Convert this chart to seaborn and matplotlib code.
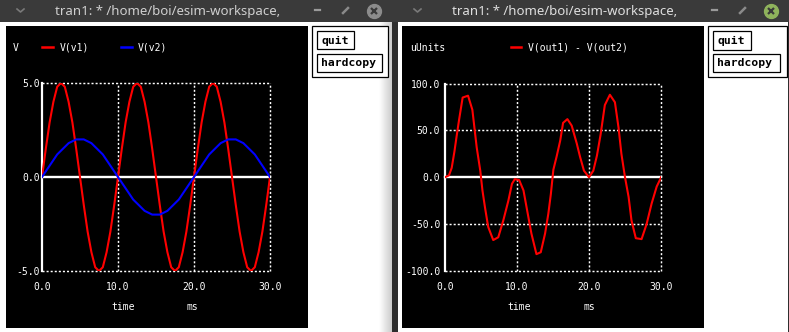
import matplotlib
matplotlib.use("Agg")
import matplotlib.pyplot as plt
import seaborn as sns
import pandas as pd
import numpy as np
from matplotlib.patches import Rectangle
from matplotlib.lines import Line2D

# ---------------- data ----------------
time_ms = [0.0, 0.5, 1.0, 1.5, 2.0, 2.5, 3.0, 3.5, 4.0, 4.5, 5.0, 5.5, 6.0, 6.5, 7.0, 7.5,
           8.0, 8.5, 9.0, 9.5, 10.0, 10.5, 11.0, 11.5, 12.0, 12.5, 13.0, 13.5, 14.0, 14.5,
           15.0, 15.5, 16.0, 16.5, 17.0, 17.5, 18.0, 18.5, 19.0, 19.5, 20.0, 20.5, 21.0,
           21.5, 22.0, 22.5, 23.0, 23.5, 24.0, 24.5, 25.0, 25.5, 26.0, 26.5, 27.0, 27.5,
           28.0, 28.5, 29.0, 29.5, 30.0]

v_v1 = [0.0, 1.5, 2.9, 4.0, 4.8, 5.0, 4.8, 4.0, 2.9, 1.5, 0.0, -1.5, -2.9, -4.0, -4.8, -5.0,
        -4.8, -4.0, -2.9, -1.5,
        0.0, 1.5, 2.9, 4.0, 4.8, 5.0, 4.8, 4.0, 2.9, 1.5, 0.0, -1.5, -2.9, -4.0, -4.8, -5.0,
        -4.8, -4.0, -2.9, -1.5,
        0.0, 1.5, 2.9, 4.0, 4.8, 5.0, 4.8, 4.0, 2.9, 1.5, 0.0, -1.5, -2.9, -4.0, -4.8, -5.0,
        -4.8, -4.0, -2.9, -1.5, 0.0]

v_v2 = [0.0, 0.3, 0.6, 0.9, 1.2, 1.4, 1.6, 1.8, 1.9, 2.0, 2.0, 2.0, 1.9, 1.8, 1.6, 1.4,
        1.2, 0.9, 0.6, 0.3, 0.0,
        -0.3, -0.6, -0.9, -1.2, -1.4, -1.6, -1.8, -1.9, -2.0, -2.0, -2.0, -1.9, -1.8, -1.6,
        -1.4, -1.2, -0.9, -0.6, -0.3, 0.0,
        0.3, 0.6, 0.9, 1.2, 1.4, 1.6, 1.8, 1.9, 2.0, 2.0, 2.0, 1.9, 1.8, 1.6, 1.4, 1.2,
        0.9, 0.6, 0.3, 0.0]

diff_time_ms = [0.0, 0.55, 0.93, 1.3, 1.6, 1.95, 2.45, 3.2, 3.8, 4.4, 4.9, 5.2, 5.55, 6.0,
                6.7, 7.4, 8.1, 8.8, 9.3, 9.7, 10.3, 10.9, 11.4, 12.0, 12.7, 13.3, 13.9,
                14.35, 14.7, 15.05, 15.5, 16.0, 16.4, 17.0, 17.6, 18.3, 18.75, 19.3, 20.0,
                20.6, 21.1, 21.6, 22.2, 22.9, 23.6, 24.1, 24.5, 25.0, 25.5, 25.9, 26.5,
                27.3, 28.0, 28.7, 29.4, 29.9, 30.0]
diff_uunits = [0, 2, 10, 27, 43, 61, 85, 87, 72, 32, 7, -14, -32, -53,
               -67, -64, -46, -25, -7, -2, -3, -14, -35, -60, -82, -80, -60,
               -39, -18, 8, 22, 39, 58, 62, 55, 36, 22, 7, 0,
               7, 23, 45, 77, 88, 80, 53, 25, 0, -21, -46, -65,
               -66, -50, -28, -10, -2, 0]

x_ticks = [0, 10, 20, 30]
x_tick_labels = ["0.0", "10.0", "20.0", "30.0"]
left_y_ticks = [-5, 0, 5]
left_y_tick_labels = ["-5.0", "0.0", "5.0"]
right_y_ticks = [-100, -50, 0, 50, 100]
right_y_tick_labels = ["-100.0", "-50.0", "0.0", "50.0", "100.0"]

left_series = ["V(v1)", "V(v2)"]
left_colors = ["#ff0000", "#0000ff"]
right_series = ["V(out1) - V(out2)"]
right_colors = ["#ff0000"]
window_title = "tran1: * /home/boi/esim-workspace,"

# ---------------- figure ----------------
W, H = 789, 332
MONO = "DejaVu Sans Mono"
fig = plt.figure(figsize=(W / 100, H / 100), dpi=100)
fig.patch.set_facecolor("#2e2e2e")


def fxx(x):
    return x / W


def fyy(y):
    return 1 - y / H


def rect(x0, y0, x1, y1, fc, ec="none", lw=0.0, z=-10):
    fig.add_artist(Rectangle((fxx(x0), fyy(y1)), (x1 - x0) / W, (y1 - y0) / H,
                             transform=fig.transFigure, facecolor=fc, edgecolor=ec,
                             linewidth=lw, zorder=z))


def ftext(x, y, s, **kw):
    kw.setdefault("zorder", 20)
    fig.text(fxx(x), fyy(y), s, **kw)


def fline(xs, ys, **kw):
    kw.setdefault("zorder", 20)
    fig.add_artist(Line2D([fxx(v) for v in xs], [fyy(v) for v in ys],
                          transform=fig.transFigure, **kw))


# title bar
rect(0, 0, W, 22, "#3a3a3a")
# window bodies
rect(0, 22, 391, 332, "white")
rect(6, 26, 308, 328, "black", z=-9)
rect(397.5, 22, 787.5, 332, "white")
rect(402, 26, 704, 328, "black", z=-9)

# shadow gradient on the right edge of the left window
gax = fig.add_axes([fxx(379), fyy(332), 12.5 / W, 310 / H])
grad = np.linspace(1.0, 0.8, 32).reshape(1, -1)
gax.imshow(grad, aspect="auto", cmap="gray", vmin=0, vmax=1, extent=[0, 1, 0, 1])
gax.set_axis_off()
gax.set_zorder(-9.5)

# window titles and title-bar controls
for off, tcol, close_col in [(0, "#cfcfcf", "#8c8c8c"), (397, "#dedede", "#8fb35c")]:
    ftext(168 + off, 11.5, window_title, color=tcol, fontsize=9.5, fontweight="bold",
          family="Noto Sans", ha="center", va="center")
    fline([17 + off, 20.5 + off, 24 + off], [9, 12, 9], color="#7a7a7a", lw=1.2)
    fline([315 + off, 320 + off], [10, 10], color="#9a9a9a", lw=1.6)
    fline([343 + off, 348 + off], [13, 8], color="#8a8a8a", lw=1.8)
    fline([373.5 + off], [10.5], marker="o", markersize=10, color=close_col, lw=0)
    fline([373.5 + off], [10.5], marker="x", markersize=4.2, markeredgewidth=1.6,
          color="#3a3a3a", lw=0)

# control panels (quit / hardcopy)
for box, quit_b, hard_b in [((312, 26, 387.5, 77), (317, 31, 354, 49), (317, 54, 382, 72)),
                            ((708, 26, 787, 77), (713, 31, 751, 50), (713, 54, 780, 72))]:
    rect(*box, "white", ec="black", lw=0.9, z=-8)
    rect(*quit_b, "white", ec="black", lw=0.9, z=-7)
    rect(*hard_b, "white", ec="black", lw=0.9, z=-7)
    ftext(quit_b[0] + 4, (quit_b[1] + quit_b[3]) / 2 + 0.5, "quit", family=MONO,
          fontweight="bold", fontsize=8.2, color="black", ha="left", va="center")
    ftext(hard_b[0] + 4, (hard_b[1] + hard_b[3]) / 2 + 0.5, "hardcopy", family=MONO,
          fontweight="bold", fontsize=8.2, color="black", ha="left", va="center")

DOT = (0, (1.4, 1.4))


def make_axes(x0, y0, x1, y1, ylim, yticks, ylabels, ypad):
    ax = fig.add_axes([fxx(x0), fyy(y1), (x1 - x0) / W, (y1 - y0) / H])
    ax.set_facecolor("none")
    ax.set_zorder(5)
    for s in ax.spines.values():
        s.set_visible(False)
    ax.set_xlim(x_ticks[0], x_ticks[-1])
    ax.set_ylim(*ylim)
    ax.set_xticks(x_ticks)
    ax.set_xticklabels(x_tick_labels, family=MONO, fontsize=7, color="white")
    ax.set_yticks(yticks)
    ax.set_yticklabels(ylabels, family=MONO, fontsize=7, color="white")
    ax.tick_params(axis="x", length=0, pad=8.2)
    ax.tick_params(axis="y", length=0, pad=ypad)
    ax.set_xlabel("")
    ax.set_ylabel("")
    for xv in x_ticks[1:]:
        ax.axvline(xv, color="white", lw=1.05, ls=DOT, zorder=1, clip_on=False)
    for yv in yticks:
        if yv == 0:
            ax.axhline(yv, color="white", lw=1.7, zorder=1.5, clip_on=False)
        else:
            ax.axhline(yv, color="white", lw=1.05, ls=DOT, zorder=1, clip_on=False)
    ax.axvline(x_ticks[0], color="white", lw=1.6, zorder=1.5, clip_on=False)
    return ax


# left plot
axL = make_axes(42, 83, 270, 271, (left_y_ticks[0], left_y_ticks[-1]),
                left_y_ticks, left_y_tick_labels, 1.6)
dfL = pd.DataFrame({
    "t": time_ms * 2,
    "v": v_v1 + v_v2,
    "series": [left_series[0]] * len(time_ms) + [left_series[1]] * len(time_ms),
})
sns.lineplot(data=dfL, x="t", y="v", hue="series", palette=dict(zip(left_series, left_colors)),
             estimator=None, legend=False, linewidth=1.5, ax=axL, zorder=3)
axL.set_xlabel("")
axL.set_ylabel("")

# right plot
axR = make_axes(445, 83.5, 661, 271, (right_y_ticks[0], right_y_ticks[-1]),
                right_y_ticks, right_y_tick_labels, 3.4)
dfR = pd.DataFrame({"t": diff_time_ms, "v": diff_uunits,
                    "series": [right_series[0]] * len(diff_time_ms)})
sns.lineplot(data=dfR, x="t", y="v", hue="series", palette=dict(zip(right_series, right_colors)),
             estimator=None, legend=False, linewidth=1.5, ax=axR, zorder=3)
axR.set_xlabel("")
axR.set_ylabel("")

# headers / legends
tk = dict(family=MONO, fontsize=7, color="white", va="center", zorder=20)
ftext(13, 48, "V", ha="left", **tk)
fline([42, 53], [47, 47], color=left_colors[0], lw=1.8)
ftext(60, 48, left_series[0], ha="left", **tk)
fline([121, 132], [47, 47], color=left_colors[1], lw=1.8)
ftext(138, 48, left_series[1], ha="left", **tk)

ftext(410, 48, "uUnits", ha="left", **tk)
fline([511, 521], [47, 47], color=right_colors[0], lw=1.8)
ftext(528, 48, right_series[0], ha="left", **tk)

# x-axis captions
for tx, mx in [(123.5, 192.5), (519.5, 589)]:
    ftext(tx, 307, "time", ha="center", **tk)
    ftext(mx, 307, "ms", ha="center", **tk)

fig.savefig("out.png", dpi=100, facecolor=fig.get_facecolor())
